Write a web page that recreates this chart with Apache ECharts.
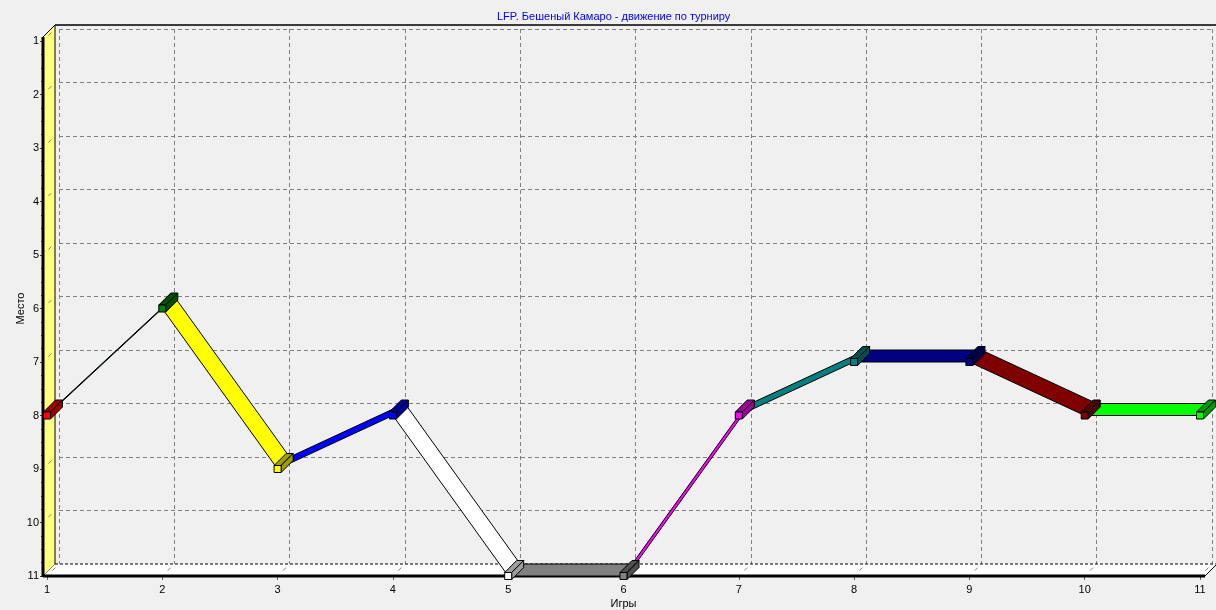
<!DOCTYPE html>
<html>
<head>
<meta charset="utf-8">
<script src="https://cdn.jsdelivr.net/npm/echarts@6/dist/echarts.min.js"></script>
<style>
html,body{margin:0;padding:0;background:#F0F0F0;overflow:hidden;}
#chart{width:1216px;height:610px;}
</style>
</head>
<body>
<div id="chart"></div>
<script>
// ---- data ----
const titleText = 'LFP. Бешеный Камаро - движение по турниру';
const xName = 'Игры';
const yName = 'Место';
const games = [1, 2, 3, 4, 5, 6, 7, 8, 9, 10, 11];
const places = [8, 6, 9, 8, 11, 11, 8, 7, 7, 8, 8];
const pointColors = ['#FF0000', '#008000', '#FFFF00', '#0000FF', '#FFFFFF', '#808080',
                     '#FF00FF', '#008080', '#000080', '#800000', '#00FF00'];
const xTicks = [1, 2, 3, 4, 5, 6, 7, 8, 9, 10, 11];
const yTicks = [1, 2, 3, 4, 5, 6, 7, 8, 9, 10, 11];
const xRange = [1, 11];
const yRange = [1, 11];

// ---- style ----
const DX = 12, DY = 12;   // 3D depth offset
const FONT = 'Liberation Sans, Arial, sans-serif';

function darken(hex, f) {
  const n = parseInt(hex.slice(1), 16);
  const r = Math.round(((n >> 16) & 255) * f);
  const g = Math.round(((n >> 8) & 255) * f);
  const b = Math.round((n & 255) * f);
  return 'rgb(' + r + ',' + g + ',' + b + ')';
}

const segData = [];
for (let i = 1; i < games.length; i++) {
  segData.push([games[i - 1], places[i - 1], games[i], places[i], i]);
}
const ptData = games.map((g, i) => [g, places[i], i]);

const dom = document.getElementById('chart');
const chart = echarts.init(dom, null, { width: 1216, height: 610 });
const option = {
  backgroundColor: '#F0F0F0',
  animation: false,
  title: {
    text: titleText,
    left: 492, top: 6,
    textStyle: { color: '#0000FF', fontSize: 11, fontWeight: 'normal', fontFamily: FONT }
  },
  grid: [
    { left: 47, right: 16, top: 41, bottom: 34, outerBoundsMode: 'none', containLabel: false },
    { left: 47 + DX, right: 16 - DX, top: 41 - DY, bottom: 34 + DY, outerBoundsMode: 'none', containLabel: false }
  ],
  xAxis: [
    {
      gridIndex: 0, type: 'value', min: xRange[0], max: xRange[1], interval: 1,
      name: xName, nameLocation: 'middle', nameGap: 22, nameMoveOverlap: false,
      nameTextStyle: { color: '#000', fontSize: 11, fontFamily: FONT },
      axisLine: { show: false },
      axisTick: { show: true, length: 4, lineStyle: { color: '#606060' } },
      axisLabel: { color: '#000', fontSize: 11, fontFamily: FONT, margin: 8 },
      splitLine: { show: false }
    },
    {
      gridIndex: 1, type: 'value', min: xRange[0], max: xRange[1], interval: 1,
      axisLine: { show: false }, axisTick: { show: false }, axisLabel: { show: false },
      splitLine: { show: true, lineStyle: { color: '#808080', type: [4, 3], width: 1 } }
    }
  ],
  yAxis: [
    {
      gridIndex: 0, type: 'value', inverse: true, min: yRange[0], max: yRange[1], interval: 1,
      offset: 4,
      name: yName, nameLocation: 'middle', nameGap: 17, nameRotate: 90, nameMoveOverlap: false,
      nameTextStyle: { color: '#000', fontSize: 11, fontFamily: FONT },
      axisLine: { show: false },
      axisTick: { show: true, length: 3, lineStyle: { color: '#404040' } },
      minorTick: { show: true, splitNumber: 4, length: 2, lineStyle: { color: '#404040' } },
      axisLabel: { color: '#000', fontSize: 11, fontFamily: FONT, margin: 4 },
      splitLine: { show: false }
    },
    {
      gridIndex: 1, type: 'value', inverse: true, min: yRange[0], max: yRange[1], interval: 1,
      axisLine: { show: false }, axisTick: { show: false }, axisLabel: { show: false },
      splitLine: { show: true, lineStyle: { color: '#808080', type: [4, 3], width: 1 } }
    }
  ],
  series: [
    {
      type: 'custom', xAxisIndex: 0, yAxisIndex: 0, clip: false, z: 1, silent: true,
      data: [[xRange[0], yRange[0]]],
      renderItem: function (params, api) {
        const a = api.coord([xRange[0], yRange[0]]);
        const b = api.coord([xRange[1], yRange[1]]);
        const xl = a[0] - 4, xr = b[0] + 5, yt = a[1] - 4, yb = b[1];
        const children = [
          { type: 'polygon', shape: { points: [[xl, yt], [xl + DX, yt - DY], [xl + DX, yb - DY], [xl, yb]] },
            style: { fill: '#FFFF80', stroke: '#000', lineWidth: 1 } },
          { type: 'polygon', shape: { points: [[xl, yb], [xl + DX, yb - DY], [xr + DX, yb - DY], [xr, yb]] },
            style: { fill: '#FFFFFF', stroke: null } },
          { type: 'line', shape: { x1: xl + DX, y1: yb - DY, x2: xr + DX, y2: yb - DY },
            style: { stroke: '#000', lineWidth: 1, lineDash: [3, 2] } },
          { type: 'line', shape: { x1: xr, y1: yb, x2: xr + DX, y2: yb - DY },
            style: { stroke: '#000', lineWidth: 1 } },
          { type: 'line', shape: { x1: xl + DX, y1: yt - DY, x2: xr + DX, y2: yt - DY },
            style: { stroke: '#000', lineWidth: 1.5 } }
        ];
        xTicks.forEach(function (t) {
          const p = api.coord([t, yRange[1]]);
          children.push({ type: 'line',
            shape: { x1: p[0] + DX * 0.45, y1: p[1] - DY * 0.45, x2: p[0] + DX * 0.7, y2: p[1] - DY * 0.7 },
            style: { stroke: '#808080', lineWidth: 1 } });
        });
        yTicks.forEach(function (t) {
          const p = api.coord([xRange[0], t]);
          const x = xl;
          children.push({ type: 'line',
            shape: { x1: x + DX * 0.45, y1: p[1] - DY * 0.45, x2: x + DX * 0.7, y2: p[1] - DY * 0.7 },
            style: { stroke: '#808080', lineWidth: 1 } });
        });
        children.push(
          { type: 'line', shape: { x1: xl, y1: yt, x2: xl, y2: yb + 1 },
            style: { stroke: '#000', lineWidth: 3 } },
          { type: 'line', shape: { x1: xl, y1: yb, x2: xr, y2: yb },
            style: { stroke: '#000', lineWidth: 3 } }
        );
        return { type: 'group', children: children };
      }
    },
    {
      type: 'custom', xAxisIndex: 0, yAxisIndex: 0, clip: false, z: 3,
      data: segData,
      renderItem: function (params, api) {
        const p1 = api.coord([api.value(0), api.value(1)]);
        const p2 = api.coord([api.value(2), api.value(3)]);
        const col = pointColors[api.value(4)];
        return {
          type: 'polygon',
          shape: { points: [p1, p2, [p2[0] + DX, p2[1] - DY], [p1[0] + DX, p1[1] - DY]] },
          style: { fill: col, stroke: '#000', lineWidth: 1 }
        };
      }
    },
    {
      type: 'custom', xAxisIndex: 0, yAxisIndex: 0, clip: false, z: 4,
      data: ptData,
      renderItem: function (params, api) {
        const p = api.coord([api.value(0), api.value(1)]);
        const col = pointColors[api.value(2)];
        const dark = darken(col, 0.62);
        const h = 3.5;
        const x0 = p[0] - h, x1 = p[0] + h, y0 = p[1] - h, y1 = p[1] + h;
        return {
          type: 'group',
          children: [
            { type: 'polygon', shape: { points: [[x0, y0], [x1, y0], [x1 + DX, y0 - DY], [x0 + DX, y0 - DY]] },
              style: { fill: dark, stroke: '#000', lineWidth: 1 } },
            { type: 'polygon', shape: { points: [[x1, y0], [x1, y1], [x1 + DX, y1 - DY], [x1 + DX, y0 - DY]] },
              style: { fill: dark, stroke: '#000', lineWidth: 1 } },
            { type: 'rect', shape: { x: x0, y: y0, width: 2 * h, height: 2 * h },
              style: { fill: col, stroke: '#000', lineWidth: 1 } }
          ]
        };
      }
    }
  ]
};
chart.setOption(option);
</script>
</body>
</html>
